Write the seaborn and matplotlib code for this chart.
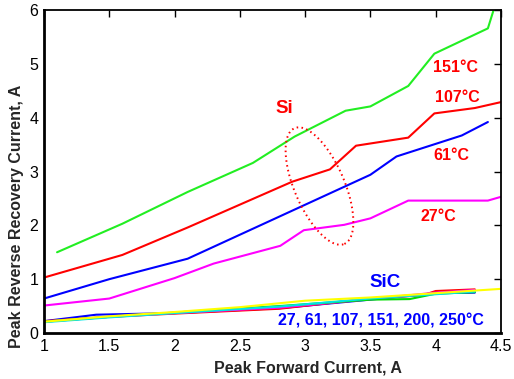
import numpy as np
import pandas as pd
import matplotlib
matplotlib.use("Agg")
import matplotlib.pyplot as plt
import seaborn as sns

# Si diode: peak reverse recovery current vs peak forward current
si_151_x = [1.1, 1.6, 2.1, 2.6, 2.92, 3.31, 3.5, 3.79, 3.99, 4.4, 4.45]
si_151_y = [1.5, 2.03, 2.62, 3.16, 3.65, 4.13, 4.21, 4.59, 5.19, 5.66, 6.05]
si_107_x = [1.0, 1.6, 2.1, 2.9, 3.19, 3.39, 3.79, 3.99, 4.3, 4.5]
si_107_y = [1.03, 1.45, 1.96, 2.81, 3.04, 3.48, 3.63, 4.08, 4.18, 4.29]
si_61_x = [1.0, 1.5, 2.1, 3.5, 3.7, 4.2, 4.4]
si_61_y = [0.64, 1.0, 1.38, 2.94, 3.28, 3.67, 3.92]
si_27_x = [1.0, 1.5, 2.0, 2.3, 2.81, 2.99, 3.3, 3.5, 3.79, 4.4, 4.5]
si_27_y = [0.51, 0.64, 1.02, 1.29, 1.62, 1.91, 2.01, 2.13, 2.46, 2.46, 2.53]

# SiC diode at 27, 61, 107, 151, 200, 250 °C
sic_27_x = [1.0, 1.4, 2.0, 2.8, 3.5, 4.0, 4.3]
sic_27_y = [0.22, 0.34, 0.37, 0.46, 0.62, 0.74, 0.75]
sic_61_x = [1.0, 1.5, 2.0, 2.8, 3.5, 3.9, 4.0, 4.3]
sic_61_y = [0.22, 0.30, 0.36, 0.45, 0.64, 0.70, 0.78, 0.81]
sic_107_x = [1.0, 1.5, 2.0, 2.8, 3.5, 4.0, 4.3]
sic_107_y = [0.21, 0.30, 0.37, 0.47, 0.63, 0.75, 0.80]
sic_151_x = [1.0, 1.5, 2.0, 2.8, 3.5, 3.8, 4.0, 4.3]
sic_151_y = [0.21, 0.30, 0.38, 0.50, 0.62, 0.63, 0.73, 0.76]
sic_200_x = [1.0, 1.5, 2.0, 2.8, 3.5, 4.0, 4.3]
sic_200_y = [0.20, 0.29, 0.37, 0.49, 0.64, 0.72, 0.77]
sic_250_x = [1.0, 1.5, 2.0, 2.5, 3.0, 3.5, 4.0, 4.5]
sic_250_y = [0.21, 0.31, 0.39, 0.48, 0.60, 0.66, 0.74, 0.82]

x_ticks = [1, 1.5, 2, 2.5, 3, 3.5, 4, 4.5]
x_tick_labels = ["1", "1.5", "2", "2.5", "3", "3.5", "4", "4.5"]
y_ticks = [0, 1, 2, 3, 4, 5, 6]

sns.set_style("white")
plt.rcParams["font.family"] = ["Liberation Sans", "DejaVu Sans"]

fig = plt.figure(figsize=(5.14, 3.79), dpi=100)
ax = fig.add_axes([0.0856, 0.1214, 0.889, 0.852])

sic_series = [
    (sic_27_x, sic_27_y, "#0000ff"),
    (sic_61_x, sic_61_y, "#ff0000"),
    (sic_107_x, sic_107_y, "#ff00ff"),
    (sic_151_x, sic_151_y, "#00dd00"),
    (sic_200_x, sic_200_y, "#00e5e5"),
    (sic_250_x, sic_250_y, "#ffff00"),
]
for xs, ys, c in sic_series:
    sns.lineplot(x=xs, y=ys, color=c, lw=1.5, sort=False, estimator=None, ax=ax)

si_series = [
    (si_151_x, si_151_y, "#22ee22"),
    (si_107_x, si_107_y, "#ff0000"),
    (si_61_x, si_61_y, "#0000ff"),
    (si_27_x, si_27_y, "#ff00ff"),
]
for xs, ys, c in si_series:
    sns.lineplot(x=xs, y=ys, color=c, lw=1.5, sort=False, estimator=None, ax=ax)

ax.set_xlim(1, 4.5)
ax.set_ylim(0, 6)
ax.set_xticks(x_ticks)
ax.set_xticklabels(x_tick_labels)
ax.set_yticks(y_ticks)
ax.tick_params(direction="in", length=5, width=1, top=True, right=True,
               labelsize=11.5, colors="black", pad=4)
for s in ax.spines.values():
    s.set_color("black")
    s.set_linewidth(1.3)
ax.spines["left"].set_linewidth(2)
ax.spines["bottom"].set_linewidth(2)

ax.set_xlabel("Peak Forward Current, A", fontsize=11.5, fontweight="bold", labelpad=5)
ax.set_ylabel("Peak Reverse Recovery Current, A", fontsize=11.5, fontweight="bold", labelpad=4)
ax.xaxis.label.set_x(0.578)
ax.yaxis.label.set_y(0.36)

# dotted ellipse grouping the Si curves (drawn in screen space, mapped to data)
fig.canvas.draw()
cx, cy = ax.transData.transform((3.11, 2.73))
a, b, ang = 63, 25, np.deg2rad(-66.7)
t = np.linspace(0, 2 * np.pi, 200)
ex = cx + a * np.cos(t) * np.cos(ang) - b * np.sin(t) * np.sin(ang)
ey = cy + a * np.cos(t) * np.sin(ang) + b * np.sin(t) * np.cos(ang)
ed = ax.transData.inverted().transform(np.column_stack([ex, ey]))
ax.plot(ed[:, 0], ed[:, 1], color="#ff0000", lw=1.4, linestyle=(0, (0.8, 1.7)))

red = "#ff0000"
blue = "#0000ff"
kw = dict(fontweight="bold", ha="center", va="center")
ax.text(2.84, 4.18, "Si", color=red, fontsize=13.5, **kw)
ax.text(4.15, 4.93, "151°C", color=red, fontsize=11.5, **kw)
ax.text(4.17, 4.38, "107°C", color=red, fontsize=11.5, **kw)
ax.text(4.12, 3.29, "61°C", color=red, fontsize=11.5, **kw)
ax.text(4.02, 2.17, "27°C", color=red, fontsize=11.5, **kw)
ax.text(3.61, 0.93, "SiC", color=blue, fontsize=13.5, **kw)
ax.text(3.58, 0.23, "27, 61, 107, 151, 200, 250°C", color=blue, fontsize=11.5, **kw)

fig.savefig("out.png", dpi=100)
